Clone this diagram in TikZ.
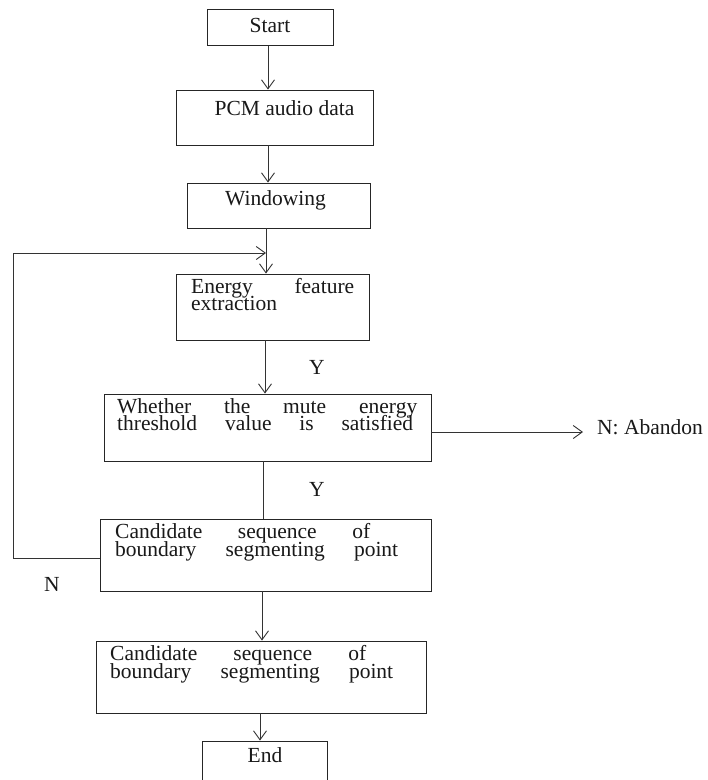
\documentclass[tikz,border=0pt]{standalone}
\usepackage{fontspec}
\setmainfont{Liberation Serif}
\usetikzlibrary{arrows.meta}
\tikzset{
  box/.style={draw=black!85, line width=0.9pt, rectangle, inner sep=0pt},
  conn/.style={draw=black!80, line width=0.9pt},
  arr/.style={conn, -{Straight Barb[length=9pt,width=13pt,line width=0.9pt]}},
  txt/.style={inner sep=0pt, font=\fontsize{21.5}{17}\selectfont, text=black!90},
  lt/.style={txt, anchor=mid west},
}
\begin{document}
\begin{tikzpicture}[x=1pt,y=-1pt]
\clip (0,0) rectangle (708,780);
\fill[white] (0,0) rectangle (708,780);
% boxes
\node[box, minimum width=126pt, minimum height=36pt] (start) at (270,27.5) {};
\node[box, minimum width=197pt, minimum height=55pt] (pcm) at (274.5,117.5) {};
\node[box, minimum width=183pt, minimum height=45pt] (win) at (278.5,205.5) {};
\node[box, minimum width=193pt, minimum height=66pt] (energy) at (272.5,307) {};
\node[box, minimum width=327pt, minimum height=67pt] (whether) at (267.5,427.5) {};
\node[box, minimum width=331pt, minimum height=72pt] (cand1) at (265.5,555) {};
\node[box, minimum width=330pt, minimum height=72pt] (cand2) at (261,677) {};
\node[box, minimum width=125pt, minimum height=58pt] (end) at (264.5,770) {};
% texts
\node[txt] (tstart) at (270,25) {Start};
\node[txt] (tpcm) at (284.5,108) {PCM audio data};
\node[txt] (twin) at (275.5,200) {Windowing};
\node[lt] (te1) at (191,291) {\makebox[163pt][s]{Energy feature}};
\node[lt] (te2) at (191,308) {extraction};
\node[lt] (tw1) at (117,411) {\makebox[300pt][s]{Whether the mute energy}};
\node[lt] (tw2) at (117,428) {\makebox[296pt][s]{threshold value is satisfied}};
\node[lt] (tc1) at (115,536) {\makebox[255pt][s]{Candidate sequence of}};
\node[lt] (tc2) at (115,554) {\makebox[283pt][s]{boundary segmenting point}};
\node[lt] (td1) at (110,658) {\makebox[256pt][s]{Candidate sequence of}};
\node[lt] (td2) at (110,676) {\makebox[283pt][s]{boundary segmenting point}};
\node[txt] (tend) at (265,755) {End};
\node[txt] (y1) at (317,367) {Y};
\node[txt] (y2) at (317,489) {Y};
\node[txt] (n1) at (52,584) {N};
\node[lt] (aband) at (597,432) {N: Abandon};
% column coordinates
\coordinate (c1) at (268,0);
\coordinate (c2) at (268,0);
\coordinate (c3) at (266,0);
\coordinate (c4) at (265,0);
\coordinate (c5) at (263,0);
\coordinate (c6) at (262,0);
\coordinate (c7) at (260,0);
\coordinate (lx) at (13,0);
\coordinate (ly) at (0,253);
\coordinate (ny) at (0,558);
\coordinate (ay) at (0,432);
\coordinate (ax) at (583,0);
% connectors
\draw[arr] (c1 |- start.south) -- (c1 |- pcm.north);
\draw[arr] (c2 |- pcm.south) -- (c2 |- win.north);
\draw[arr] (c3 |- win.south) -- (c3 |- energy.north);
\draw[arr] (c4 |- energy.south) -- (c4 |- whether.north);
\draw[conn] (c5 |- whether.south) -- (c5 |- cand1.north);
\draw[arr] (c6 |- cand1.south) -- (c6 |- cand2.north);
\draw[arr] (c7 |- cand2.south) -- (c7 |- end.north);
\draw[arr] (cand1.west |- ny) -- (lx |- ny) -- (lx |- ly) -- (c3 |- ly);
\draw[arr] (whether.east |- ay) -- (ax |- ay);
\end{tikzpicture}
\end{document}
